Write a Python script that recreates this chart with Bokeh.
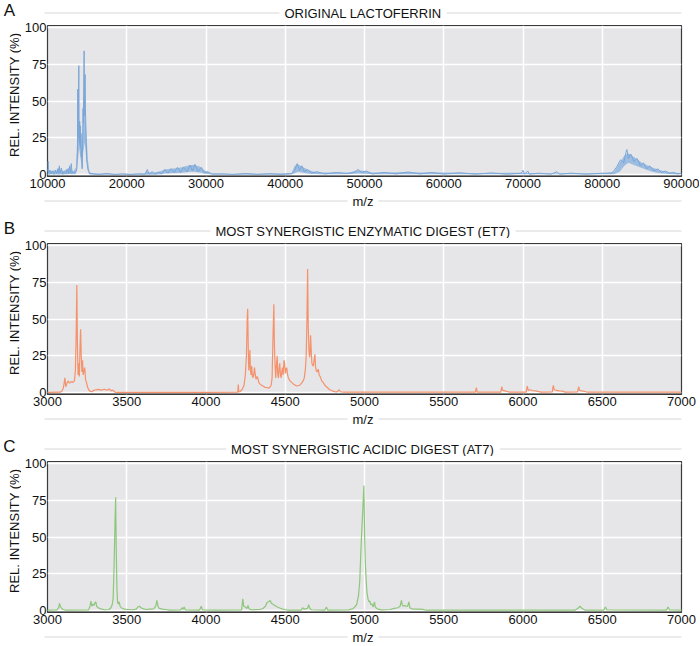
from bokeh.plotting import figure
from bokeh.layouts import column, row
from bokeh.models import Range1d, Span, FixedTicker
from bokeh.core.properties import value
from bokeh.embed import file_html
from bokeh.resources import INLINE

# ---------------- data ----------------
A_TITLE = "ORIGINAL LACTOFERRIN"
B_TITLE = "MOST SYNERGISTIC ENZYMATIC DIGEST (ET7)"
C_TITLE = "MOST SYNERGISTIC ACIDIC DIGEST (AT7)"
Y_TITLE = "REL. INTENSITY (%)"
X_TITLE = "m/z"

y_ticks = [0, 25, 50, 75, 100]
y_tick_labels = ["0", "25", "50", "75", "100"]
a_ticks = [10000, 20000, 30000, 40000, 50000, 60000, 70000, 80000, 90000]
a_tick_labels = ["10000", "20000", "30000", "40000", "50000", "60000", "70000", "80000", "90000"]
bc_ticks = [3000, 3500, 4000, 4500, 5000, 5500, 6000, 6500, 7000]
bc_tick_labels = ["3000", "3500", "4000", "4500", "5000", "5500", "6000", "6500", "7000"]

# Panel A: noise envelope (m/z, low, high) and the trace
a_band_mz = [10000, 10200, 10500, 10800, 11100, 11400, 11600, 11900, 12200, 12500,
             12800, 13000, 13300, 13600, 13800, 14000, 14200, 14350, 14500, 14700,
             14900, 15100, 15300, 15600, 17000, 19000, 21000, 22300, 22500, 22800,
             23500, 24300, 24800, 25500, 26500, 27300, 28000, 28500, 29200, 29800,
             30500, 31500, 33000, 35000, 37000, 39000, 40800, 41200, 41600, 42100,
             42800, 43600, 44500, 46000, 47500, 48500, 49200, 50000, 51000, 53000,
             55000, 57000, 60000, 63000, 66000, 69000, 72000, 75000, 78000, 80500,
             81500, 82200, 82800, 83300, 84000, 85000, 86000, 87000, 88000, 89000,
             90000]
a_band_lo = [0, 0, 0.3, 0, 0.3, 0, 0.3, 0, 0.3, 0.3,
             0.5, 0.3, 0.3, 0.5, 8, 18, 10, 4, 15, 22,
             10, 3, 0.5, 0, 0, 0, 0, 0, 0, 0,
             0, 0.3, 0.8, 1, 1.2, 1.5, 2, 2, 1.5, 0.8,
             0.2, 0, 0, 0, 0, 0, 0.1, 1, 2, 1.5,
             0.8, 0.4, 0.3, 0.3, 0.3, 0.4, 0.8, 0.6, 0.3, 0.3,
             0.3, 0.3, 0.3, 0.2, 0.2, 0.2, 0.2, 0.2, 0.2, 0.2,
             0.3, 2, 6, 8, 6.5, 4.5, 2.5, 1.2, 0.6, 0.3,
             0.2]
a_band_hi = [4, 3, 2.5, 3, 2.5, 4.5, 3, 2.5, 3, 4,
             5, 3, 2.5, 5, 30, 37, 32, 12, 42, 45,
             30, 10, 2, 0.8, 0.6, 0.5, 0.6, 0.8, 2.5, 1.5,
             1.5, 2.5, 3.5, 4, 4.5, 5.5, 6.5, 6.5, 5.5, 3,
             1.2, 0.6, 0.5, 0.8, 0.6, 0.8, 1, 6, 7, 5.5,
             3.5, 2, 1.5, 1.5, 1.2, 2, 3, 2.5, 1.5, 1.5,
             1.8, 1.5, 1.5, 1.2, 1.2, 1.3, 1, 1, 1, 1.2,
             2, 8, 13, 14.5, 12, 8, 5.5, 3.5, 2, 1.5,
             1]

a_mz = [10000, 10080, 10150, 10300, 10450, 10600, 10800, 11000, 11150, 11300,
        11400, 11500, 11600, 11750, 11900, 12100, 12300, 12500, 12650, 12800,
        12900, 13000, 13100, 13250, 13400, 13600, 13700, 13780, 13820, 13860,
        13900, 13953, 13990, 14020, 14060, 14100, 14140, 14180, 14220, 14260,
        14300, 14340, 14375, 14410, 14450, 14490, 14530, 14570, 14622, 14660,
        14700, 14740, 14780, 14820, 14860, 14900, 14950, 15000, 15080, 15200,
        15300, 15500, 16500, 17500, 18500, 19500, 20500, 21500, 22300, 22600,
        22800, 23200, 23600, 24000, 24400, 24800, 25200, 25600, 26000, 26400,
        26800, 27200, 27600, 28000, 28300, 28600, 29000, 29400, 29800, 30200,
        30800, 32000, 33500, 35000, 36500, 38000, 39500, 40800, 41200, 41500,
        41800, 42100, 42400, 42800, 43300, 44000, 45000, 46500, 48000, 48800,
        49200, 49600, 50200, 51000, 52500, 54000, 55500, 57000, 58500, 60000,
        62000, 64000, 66000, 68000, 69800, 70000, 70200, 70600, 70800, 72000,
        73500, 74300, 74600, 76000, 78000, 80000, 81200, 81800, 82300, 82700,
        83000, 83100, 83300, 83600, 84000, 84400, 84800, 85200, 85600, 86000,
        86500, 87000, 87500, 88000, 88500, 89000, 89500, 90000]
a_int = [2, 9, 1, 3, 0.5, 2.5, 0.5, 3, 0.5, 4,
         1, 6, 1, 4.5, 0.5, 2, 0.5, 3.5, 0.5, 6,
         1, 7.5, 1, 2, 1, 2, 4, 15, 58, 25,
         45, 74, 30, 22, 36, 20, 33, 18, 28, 12,
         18, 8, 4, 15, 30, 45, 35, 60, 84, 55,
         40, 68, 45, 38, 25, 20, 10, 8, 4, 2,
         0.5, 0.8, 0.2, 0.8, 0.2, 0.6, 0.1, 0.6, 0.3, 3.5,
         0.5, 2, 0.5, 1.5, 0.5, 3.5, 1, 4, 1.5, 5,
         1.5, 5, 2, 6.5, 2.5, 7, 2, 5, 1, 2,
         0.3, 0.6, 0.2, 0.8, 0.2, 0.7, 0.2, 0.8, 3, 7.5,
         3, 6, 2, 3.5, 1, 2, 0.5, 1.5, 0.8, 2,
         3.5, 1.5, 2.5, 0.5, 1.5, 0.5, 1.8, 0.5, 1.5, 0.4,
         1.3, 0.3, 1.2, 0.3, 1, 3, 0.3, 2.5, 0.3, 1,
         0.3, 2, 0.3, 1, 0.3, 1, 1, 5, 10, 8,
         15, 17, 11, 14, 9, 11, 6, 8, 4, 6,
         2.5, 4, 1.5, 2.5, 0.8, 1.5, 0.5, 1]

# Panel B: enzymatic digest
b_mz = [3000, 3080, 3090, 3100, 3110, 3115, 3122, 3130, 3140, 3150,
        3160, 3170, 3176, 3181, 3185, 3189, 3193, 3197, 3201, 3205,
        3209, 3213, 3217, 3221, 3225, 3230, 3235, 3240, 3246, 3252,
        3260, 3267, 3280, 3290, 3300, 3320, 3340, 3360, 3375, 3390,
        3400, 3410, 3425, 3440, 3700, 4000, 4200, 4204, 4207, 4215,
        4230, 4240, 4248, 4255, 4260, 4263, 4267, 4270, 4274, 4277,
        4280, 4284, 4288, 4292, 4296, 4301, 4306, 4311, 4316, 4322,
        4327, 4333, 4340, 4350, 4360, 4373, 4385, 4395, 4405, 4411,
        4417, 4422, 4428, 4432, 4436, 4440, 4445, 4449, 4453, 4457,
        4461, 4465, 4470, 4474, 4478, 4482, 4487, 4492, 4496, 4501,
        4505, 4509, 4515, 4520, 4530, 4541, 4555, 4572, 4590, 4603,
        4613, 4620, 4627, 4632, 4637, 4641, 4645, 4649, 4653, 4656,
        4660, 4664, 4668, 4672, 4677, 4682, 4687, 4691, 4695, 4701,
        4708, 4714, 4720, 4730, 4739, 4750, 4760, 4770, 4781, 4792,
        4802, 4812, 4823, 4833, 4840, 4848, 4870, 5200, 5500, 5700,
        5706, 5711, 5860, 5866, 5872, 5885, 5900, 5915, 6020, 6027,
        6033, 6045, 6060, 6080, 6100, 6115, 6185, 6191, 6197, 6210,
        6230, 6250, 6265, 6345, 6351, 6357, 6370, 6390, 6410, 7000]
b_int = [0.2, 0.3, 1, 3, 10, 4, 6, 8, 6.5, 7.5,
         7, 8, 15, 40, 73, 30, 12, 20, 11, 30,
         43, 25, 14, 22, 12, 15, 17, 9, 7, 4,
         2, 1, 0.6, 1.5, 1.8, 2.2, 1.7, 2.3, 1.6, 2.5,
         1.2, 1.8, 0.4, 0.2, 0.2, 0.2, 0.3, 5.5, 0.5, 0.8,
         2.5, 5, 12, 25, 50, 57, 28, 15, 22, 29,
         16, 12, 18, 12, 10, 12, 17, 12, 9, 11,
         10, 7, 6, 5, 4.5, 3.5, 3.5, 3, 4, 5,
         10, 35, 60, 30, 18, 10, 20, 25, 12, 10,
         16, 20, 12, 10, 14, 17, 12, 22, 20, 13,
         16, 17, 12, 10, 8, 7, 5.5, 4.5, 5, 6.5,
         8, 10, 16, 25, 50, 84, 45, 30, 24, 26,
         39, 28, 20, 19, 18, 22, 26, 18, 15, 14,
         16, 12, 11, 8, 7, 5, 4, 3, 2, 1.5,
         1, 0.7, 0.5, 1.2, 2, 0.6, 0.3, 0.3, 0.3, 0.3,
         3.5, 0.4, 0.4, 4, 1.5, 1.2, 0.8, 0.4, 0.4, 4.5,
         1.5, 2, 1.3, 1.2, 0.7, 0.4, 0.5, 5, 2, 1.5,
         1.2, 1, 0.4, 0.5, 4, 1.5, 1.2, 0.8, 0.3, 0.3]

# Panel C: acidic digest
c_mz = [3000, 3060, 3070, 3076, 3082, 3090, 3100, 3115, 3260, 3268,
        3274, 3280, 3287, 3293, 3300, 3305, 3310, 3320, 3337, 3360,
        3389, 3400, 3408, 3414, 3420, 3426, 3430, 3434, 3438, 3442,
        3446, 3452, 3458, 3465, 3484, 3510, 3536, 3560, 3570, 3580,
        3590, 3605, 3625, 3641, 3660, 3672, 3683, 3690, 3697, 3705,
        3725, 3745, 3770, 3840, 3850, 3856, 3862, 3870, 3960, 3970,
        3978, 4060, 4225, 4232, 4238, 4248, 4258, 4265, 4272, 4285,
        4340, 4360, 4375, 4385, 4395, 4405, 4412, 4420, 4434, 4450,
        4465, 4480, 4496, 4520, 4600, 4610, 4618, 4640, 4648, 4655,
        4665, 4750, 4760, 4768, 4900, 4930, 4950, 4962, 4970, 4977,
        4983, 4990, 4996, 5001, 5006, 5011, 5016, 5022, 5028, 5034,
        5040, 5047, 5055, 5063, 5068, 5080, 5105, 5160, 5189, 5210,
        5225, 5233, 5238, 5245, 5252, 5262, 5272, 5280, 5286, 5300,
        5314, 5340, 5367, 5390, 6330, 6345, 6360, 6372, 6390, 6510,
        6520, 6530, 6905, 6915, 6925, 7000]
c_int = [0.3, 0.5, 2, 5, 2.5, 1.5, 0.8, 0.3, 0.5, 3,
         6.5, 3, 4.5, 3.5, 5.5, 6, 3, 2, 1.2, 0.6,
         0.8, 2, 4, 8, 30, 60, 77, 40, 15, 6,
         4.5, 6, 3, 2, 1, 0.8, 0.6, 1, 2.5, 3,
         2, 1.2, 0.8, 1, 1, 1.5, 3, 7, 3, 1.5,
         1, 0.8, 0.4, 0.5, 2, 1, 2.5, 0.5, 0.4, 3,
         0.5, 0.3, 0.5, 8, 3, 2.5, 1.5, 3.5, 1.2, 0.6,
         0.8, 1.5, 3, 5.5, 6, 7, 5, 4.5, 3.5, 2.5,
         1.8, 1.2, 0.8, 0.4, 0.4, 2, 1, 1.5, 4, 1.5,
         0.6, 0.4, 2.4, 0.4, 0.5, 1.5, 4, 10, 20, 40,
         55, 70, 85, 50, 30, 20, 12, 8, 6, 6.5,
         4, 4.5, 2.5, 6, 2.5, 1.2, 0.5, 0.8, 1.5, 2,
         3, 7, 4, 3, 3.5, 3, 3, 6, 2, 1.2,
         1, 1.1, 0.9, 0.3, 0.4, 1.5, 3, 1.5, 0.4, 0.4,
         2.5, 0.5, 0.4, 2.5, 0.5, 0.3]

# ---------------- styling / geometry ----------------
FONT = "Liberation Sans"
TXT = "#111111"
DECO = "#d6d6d6"
BG = "#e6e5e7"
FS = "13px"
Y0, Y1 = -1.25, 101.25

TOTAL_W = 699
STRIP_W = 21          # left strip with the rotated y title
BL, BR = 23, 18       # main figure borders
MAIN_W = TOTAL_W - STRIP_W
FRAME_L = STRIP_W + BL
FRAME_R = TOTAL_W - BR
TOP_B, FRAME_H, BOT_B = 5, 151, 17
MAIN_H = TOP_B + FRAME_H + BOT_B

TITLE_GAP = 12.5      # title centre above frame
LETTER_GAP = 15.5     # panel letter centre above frame
MZ_GAP = 24.5         # x title centre below frame
LETTER_X = 9


def blank(w, h):
    s = figure(width=w, height=h, x_range=Range1d(0, w), y_range=Range1d(0, h),
               output_backend="svg", toolbar_location=None,
               x_axis_location=None, y_axis_location=None,
               min_border=0, min_border_left=0, min_border_right=0,
               min_border_top=0, min_border_bottom=0)
    s.grid.visible = False
    s.outline_line_color = None
    s.background_fill_color = "white"
    s.border_fill_color = "white"
    return s


def hline_text(s, y, text):
    s.segment(x0=[FRAME_L], y0=[y], x1=[FRAME_R], y1=[y], line_color=DECO, line_width=1)
    s.text(x=[(FRAME_L + FRAME_R) / 2.0], y=[y], text=[text],
           text_font=value(FONT), text_font_size=value(FS), text_color=TXT,
           text_align="center", text_baseline="middle",
           background_fill_color="white", padding=(5, 0))


def letter(s, y, txt):
    s.text(x=[LETTER_X], y=[y], text=[txt], text_font=value(FONT),
           text_font_size=value("17px"), text_color="#111111",
           text_align="center", text_baseline="middle")


def strip(h, items):
    """items: list of (kind, offset from strip top, text)"""
    s = blank(TOTAL_W, h)
    for kind, off, txt in items:
        y = h - off
        if kind == "line":
            hline_text(s, y, txt)
        else:
            letter(s, y, txt)
    return s


def ylab_strip():
    s = blank(STRIP_W, MAIN_H)
    top = MAIN_H - TOP_B
    bot = BOT_B
    s.segment(x0=[14], y0=[bot], x1=[14], y1=[top], line_color=DECO, line_width=1)
    s.text(x=[14], y=[(top + bot) / 2.0 + 1], text=[Y_TITLE], angle=1.5707963,
           text_font=value(FONT), text_font_size=value(FS), text_color=TXT,
           text_align="center", text_baseline="middle",
           background_fill_color="white", padding=(5, 0))
    return s


def main_panel(x0, x1, ticks, tick_labels):
    p = figure(width=MAIN_W, height=MAIN_H, x_range=Range1d(x0, x1), y_range=Range1d(Y0, Y1),
               output_backend="svg", toolbar_location=None,
               min_border_left=BL, min_border_right=BR,
               min_border_top=TOP_B, min_border_bottom=BOT_B)
    p.background_fill_color = BG
    p.border_fill_color = "white"
    p.outline_line_color = "#3a3a3a"
    p.outline_line_width = 1.2

    p.xgrid.ticker = FixedTicker(ticks=ticks)
    p.ygrid.ticker = FixedTicker(ticks=y_ticks)
    for g in (p.xgrid[0], p.ygrid[0]):
        g.grid_line_color = "white"
        g.grid_line_width = 1.5

    xa = p.xaxis[0]
    xa.ticker = FixedTicker(ticks=ticks)
    xa.major_label_overrides = {t: s for t, s in zip(ticks, tick_labels)}
    ya = p.yaxis[0]
    ya.ticker = FixedTicker(ticks=y_ticks)
    ya.major_label_overrides = {t: s for t, s in zip(y_ticks, y_tick_labels)}
    for ax in (xa, ya):
        ax.axis_line_color = None
        ax.major_tick_line_color = None
        ax.minor_tick_line_color = None
        ax.major_tick_out = 0
        ax.major_tick_in = 0
        ax.major_label_text_font = FONT
        ax.major_label_text_font_size = FS
        ax.major_label_text_color = TXT
    xa.major_label_standoff = 2
    ya.major_label_standoff = 1

    ky = FRAME_H / (Y1 - Y0)
    p.add_layout(Span(location=Y0 + 1.0 / ky, dimension="width", line_color="#222222",
                      line_width=1, line_dash="1 1"))
    return p


pA = main_panel(10000, 90000, a_ticks, a_tick_labels)
pA.varea(x=a_band_mz, y1=a_band_lo, y2=a_band_hi, fill_color="#94b8df", fill_alpha=0.9)
pA.line(a_mz, a_int, line_color="#7aa6d8", line_width=1)

pB = main_panel(3000, 7000, bc_ticks, bc_tick_labels)
pB.line(b_mz, b_int, line_color="#f5926c", line_width=1.2)

pC = main_panel(3000, 7000, bc_ticks, bc_tick_labels)
pC.line(c_mz, c_int, line_color="#8dc77b", line_width=1.2)

S0_H, S1_H, S2_H, S3_H = 20, 45, 45, 15
s0 = strip(S0_H, [("letter", S0_H + TOP_B - LETTER_GAP, "A"),
                  ("line", S0_H + TOP_B - TITLE_GAP, A_TITLE)])
s1 = strip(S1_H, [("line", MZ_GAP - BOT_B, X_TITLE),
                  ("letter", S1_H + TOP_B - LETTER_GAP, "B"),
                  ("line", S1_H + TOP_B - TITLE_GAP, B_TITLE)])
s2 = strip(S2_H, [("line", MZ_GAP - BOT_B, X_TITLE),
                  ("letter", S2_H + TOP_B - LETTER_GAP, "C"),
                  ("line", S2_H + TOP_B - TITLE_GAP, C_TITLE)])
s3 = strip(S3_H, [("line", MZ_GAP - BOT_B, X_TITLE)])

layout = column(s0, row(ylab_strip(), pA, spacing=0), s1,
                row(ylab_strip(), pB, spacing=0), s2,
                row(ylab_strip(), pC, spacing=0), s3, spacing=0)
open("out.html", "w").write(file_html(layout, INLINE))
